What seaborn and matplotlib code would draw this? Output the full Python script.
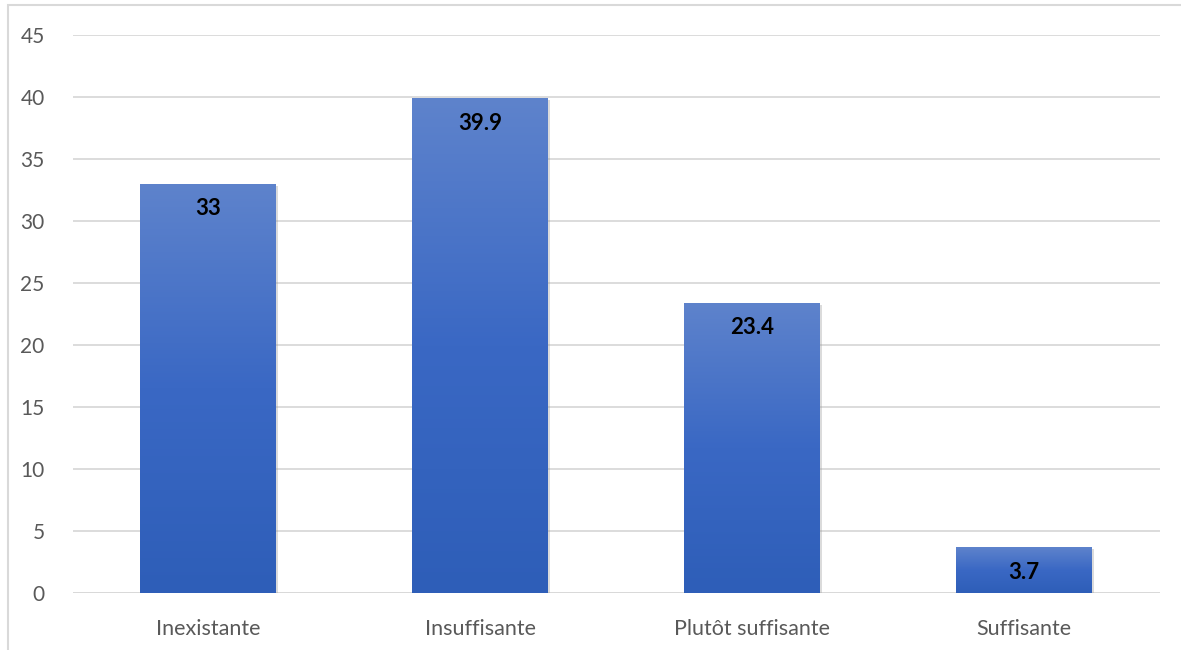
import numpy as np
import pandas as pd
import seaborn as sns
import matplotlib.pyplot as plt
from matplotlib.patches import Rectangle
from matplotlib.colors import LinearSegmentedColormap
import matplotlib.patheffects as pe

# data
categories = ['Inexistante', 'Insuffisante', 'Plutôt suffisante', 'Suffisante']
values = [33, 39.9, 23.4, 3.7]
value_labels = ['33', '39.9', '23.4', '3.7']
y_ticks = [0, 5, 10, 15, 20, 25, 30, 35, 40, 45]

df = pd.DataFrame({'categorie': categories, 'valeur': values})

sns.set_style('white')
plt.rcParams['font.family'] = ['Lato', 'DejaVu Sans']

fig = plt.figure(figsize=(11.81, 6.5), dpi=100)
ax = fig.add_axes([72.5 / 1181, 57 / 650, (1159.5 - 72.5) / 1181, (593 - 35) / 650])

sns.barplot(data=df, x='categorie', y='valeur', color='#4472C4', width=0.5,
            ax=ax, zorder=3, linewidth=0)

# vertical gradient fill on each bar (lighter top, darker bottom)
grad = LinearSegmentedColormap.from_list('g', ['#2E5EB8', '#3A68C4', '#5E83CC'])
for p in ax.patches:
    p.set_path_effects([pe.SimplePatchShadow(offset=(1.5, -1.5), shadow_rgbFace='#9a9a9a', alpha=0.35), pe.Normal()])
    x0, y0 = p.get_x(), p.get_y()
    w, h = p.get_width(), p.get_height()
    im = ax.imshow(np.linspace(0, 1, 256).reshape(-1, 1), cmap=grad, origin='lower',
                   extent=[x0, x0 + w, y0, y0 + h], aspect='auto', zorder=4)
    im.set_clip_path(p)

ax.set_xlim(-0.5, 3.5)
ax.set_ylim(0, 45)
ax.set_yticks(y_ticks)
ax.set_yticklabels([str(t) for t in y_ticks])
ax.yaxis.grid(True, color='#d9d9d9', linewidth=1.3, zorder=0)
ax.set_axisbelow(True)
for s in ax.spines.values():
    s.set_visible(False)
ax.axhline(0, color='#d9d9d9', linewidth=1.3, zorder=2)
ax.tick_params(axis='both', length=0, labelcolor='#595959')
ax.tick_params(axis='x', labelsize=15.5, pad=19)
ax.tick_params(axis='y', labelsize=15, pad=20)
ax.set_xlabel('')
ax.set_ylabel('')

for i, (v, lab) in enumerate(zip(values, value_labels)):
    ax.annotate(lab, (i, v), xytext=(0, -10.5), textcoords='offset points',
                ha='center', va='top', fontsize=16, fontweight='bold',
                color='black', zorder=6)

# light frame around the whole chart
fig.patches.append(Rectangle((8 / 1181, -0.01), 1.02, 1 - 5 / 650 + 0.01,
                             transform=fig.transFigure, fill=False,
                             edgecolor='#d9d9d9', linewidth=1.5))

plt.savefig('out.png', dpi=100)
